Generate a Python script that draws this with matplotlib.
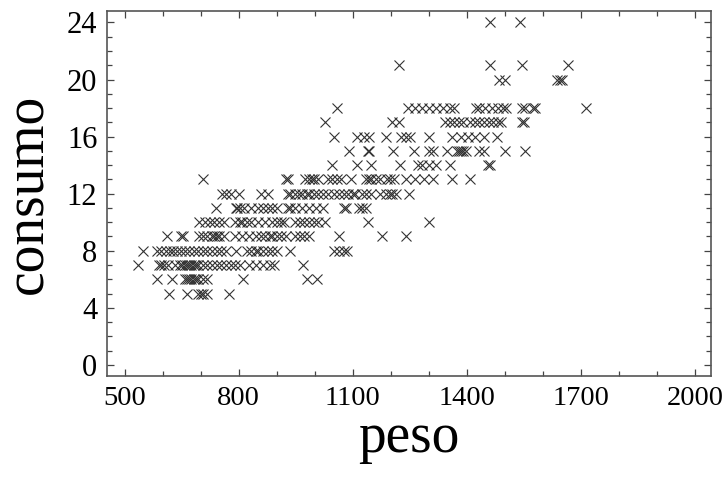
import numpy as np
import matplotlib
matplotlib.use("Agg")
import matplotlib.pyplot as plt
from matplotlib.ticker import MultipleLocator

# peso values (kg), grouped by consumo level
peso_c5 = [618, 664, 694, 700, 706, 716, 776]
peso_c6 = [585, 625, 658, 664, 670, 676, 682, 688, 694, 706, 716, 812, 981, 1007]
peso_c7 = [536, 591, 597, 603, 615, 633, 645, 652, 658, 664, 670, 676, 682, 688,
           694, 706, 718, 730, 742, 755, 767, 779, 791, 803, 827, 845, 864, 882,
           894, 969]
peso_c8 = [548, 585, 597, 609, 619, 627, 639, 648, 658, 670, 682, 694, 706, 718,
           730, 742, 755, 767, 793, 821, 833, 845, 852, 864, 876, 888, 900, 934,
           1052, 1064, 1076, 1084]
peso_c9 = [612, 648, 655, 696, 706, 718, 730, 736, 742, 748, 761, 791, 809, 827,
           845, 858, 870, 882, 888, 900, 912, 924, 948, 961, 973, 985, 1064, 1176,
           1239]
peso_c10 = [696, 712, 724, 736, 748, 761, 791, 803, 809, 821, 833, 852, 870, 888,
            900, 912, 918, 948, 961, 973, 985, 997, 1009, 1027, 1139, 1300]
peso_c11 = [740, 793, 797, 803, 815, 833, 852, 864, 876, 888, 900, 930, 936, 948,
            967, 985, 1003, 1021, 1076, 1082, 1116, 1124, 1136]
peso_c12 = [757, 767, 779, 801, 858, 876, 930, 936, 948, 958, 967, 979, 985, 997,
            1009, 1021, 1036, 1052, 1064, 1076, 1088, 1100, 1106, 1124, 1136, 1148,
            1173, 1188, 1197, 1203, 1215, 1247]
peso_c13 = [706, 924, 930, 975, 985, 992, 999, 1009, 1036, 1045, 1058, 1070, 1096,
            1134, 1142, 1148, 1161, 1173, 1191, 1197, 1209, 1239, 1264, 1288, 1312,
            1361, 1407]
peso_c14 = [1045, 1110, 1148, 1225, 1272, 1282, 1300, 1318, 1355, 1455, 1460]
peso_c15 = [1090, 1139, 1142, 1207, 1261, 1300, 1312, 1348, 1373, 1379, 1385, 1391,
            1397, 1433, 1445, 1500, 1554]
peso_c16 = [1052, 1112, 1130, 1142, 1188, 1227, 1239, 1251, 1300, 1361, 1385, 1403,
            1421, 1445, 1479]
peso_c17 = [1027, 1203, 1222, 1342, 1355, 1367, 1379, 1391, 1409, 1421, 1433, 1445,
            1458, 1470, 1482, 1491, 1546, 1551]
peso_c18 = [1058, 1245, 1264, 1282, 1300, 1318, 1336, 1355, 1367, 1425, 1431, 1448,
            1466, 1482, 1494, 1504, 1546, 1554, 1573, 1579, 1712]
peso_c20 = [1485, 1500, 1637, 1646, 1649]
peso_c21 = [1222, 1460, 1545, 1666]
peso_c24 = [1460, 1539]

consumo_levels = [5, 6, 7, 8, 9, 10, 11, 12, 13, 14, 15, 16, 17, 18, 20, 21, 24]
peso_groups = [peso_c5, peso_c6, peso_c7, peso_c8, peso_c9, peso_c10, peso_c11,
               peso_c12, peso_c13, peso_c14, peso_c15, peso_c16, peso_c17,
               peso_c18, peso_c20, peso_c21, peso_c24]

peso = np.concatenate([np.array(g, dtype=float) for g in peso_groups])
consumo = np.concatenate([np.full(len(g), c, dtype=float)
                          for g, c in zip(peso_groups, consumo_levels)])

plt.rcParams['font.family'] = ['Liberation Serif', 'DejaVu Serif']

fig = plt.figure(figsize=(7.23, 4.80), dpi=100)
ax = fig.add_axes([0.148, 0.217, 0.836, 0.760])

ax.plot(peso, consumo, linestyle='none', marker='x', markersize=6.5,
        markeredgewidth=0.8, color='#333333')

ax.set_xlim(454, 2043)
ax.set_ylim(-0.77, 24.8)
ax.set_xticks([500, 800, 1100, 1400, 1700, 2000])
ax.set_yticks([0, 4, 8, 12, 16, 20, 24])
ax.xaxis.set_minor_locator(MultipleLocator(100))
ax.yaxis.set_minor_locator(MultipleLocator(1))

ax.tick_params(which='both', direction='in', top=True, right=True,
               color='#444444', width=0.9)
ax.tick_params(which='major', length=5, labelsize=22, pad=7)
ax.tick_params(axis='x', which='major', labelsize=20.5)
ax.tick_params(which='minor', length=3.5)

for s in ax.spines.values():
    s.set_color('#555555')
    s.set_linewidth(1.2)

ax.set_xlabel('peso', fontsize=40, labelpad=1)
ax.set_ylabel('consumo', fontsize=40, labelpad=9)

fig.savefig('out.png', dpi=100)
